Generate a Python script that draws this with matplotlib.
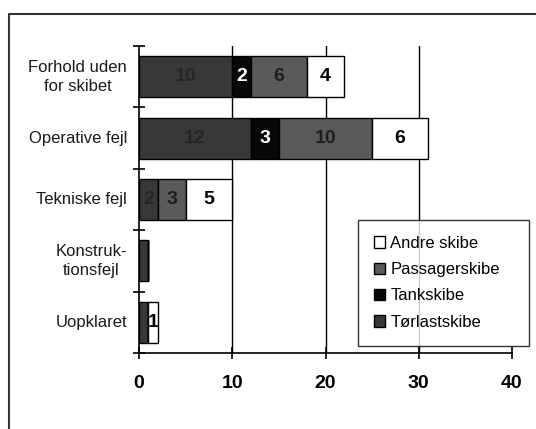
import matplotlib
matplotlib.use("Agg")
from matplotlib import pyplot as plt
from matplotlib.lines import Line2D
import matplotlib.transforms as mtransforms
import numpy as np

plt.rcParams['font.family'] = ['Liberation Sans', 'DejaVu Sans']

# Data
categories = ["Forhold uden\nfor skibet", "Operative fejl", "Tekniske fejl",
              "Konstruk-\ntionsfejl", "Uopklaret"]
series_names = ["Tørlastskibe", "Tankskibe", "Passagerskibe", "Andre skibe"]
torlast = [10, 12, 2, 1, 1]
tank = [2, 3, 0, 0, 0]
passager = [6, 10, 3, 0, 0]
andre = [4, 6, 5, 0, 1]

series = [torlast, tank, passager, andre]
colors = ['#383838', '#080808', '#5a5a5a', '#ffffff']
text_colors = ['#262626', 'white', '#1e1e1e', 'black']

fig = plt.figure(figsize=(5.36, 4.29), dpi=100)
ax = fig.add_axes([139/536, 1 - 353/429, 373/536, 307/429])

y = np.arange(len(categories))
left = np.zeros(len(categories))
bars = []
for k, (vals, col, tcol, name) in enumerate(zip(series, colors, text_colors, series_names)):
    vals = np.array(vals, dtype=float)
    b = ax.barh(y, vals, left=left, height=0.67, color=col, edgecolor='black',
                linewidth=1.0, label=name, zorder=3)
    bars.append(b)
    for yi, (l, v) in enumerate(zip(left, vals)):
        # narrow dark first segments carry no visible label in the original
        if v > 0 and not (k == 0 and v < 2):
            ax.text(l + v / 2, yi, f"{int(v)}", ha='center', va='center',
                    color=tcol, fontsize=14, fontweight='bold', zorder=4)
    left = left + vals

ax.set_xlim(0, 40)
ax.set_ylim(4.5, -0.5)

# grid
for gx in [10, 20, 30]:
    ax.axvline(gx, color='black', linewidth=1.0, zorder=1)

for s in ['top', 'right']:
    ax.spines[s].set_visible(False)
ax.spines['left'].set_linewidth(1.2)
ax.spines['bottom'].set_linewidth(1.2)

ax.set_xticks([0, 10, 20, 30, 40])
ax.set_xticklabels(['0', '10', '20', '30', '40'], fontsize=14, fontweight='bold')
ax.tick_params(axis='x', direction='inout', length=9, width=1.2, pad=11)

ax.set_yticks(np.arange(-0.5, 5, 1.0))
ax.set_yticklabels([])
ax.tick_params(axis='y', direction='inout', length=9, width=1.2)
lab_trans = mtransforms.offset_copy(ax.get_yaxis_transform(), fig=fig,
                                    x=-12, y=0, units='dots')
for yi, cat in enumerate(categories):
    ax.text(0, yi, cat, ha='right', va='center', multialignment='center',
            fontsize=12, transform=lab_trans, color='#1a1a1a',
            linespacing=1.35)

handles = [bars[3], bars[2], bars[1], bars[0]]
labels = [series_names[3], series_names[2], series_names[1], series_names[0]]
leg = fig.legend(handles, labels, loc='upper left', mode='expand',
                 bbox_to_anchor=(358/536, 1 - 346/429, 171/536, 126/429),
                 fontsize=12, frameon=True, fancybox=False, handlelength=0.65,
                 handleheight=0.65, handletextpad=0.35, labelspacing=0.68,
                 borderpad=0.95, borderaxespad=0)
leg.get_frame().set_edgecolor('black')
leg.get_frame().set_linewidth(1.0)

# outer frame
fig.add_artist(Line2D([9/536, 9/536, 1], [0, 1 - 14/429, 1 - 14/429],
                      transform=fig.transFigure, color='#333333', linewidth=1.5))

fig.savefig("out.png", dpi=100)
